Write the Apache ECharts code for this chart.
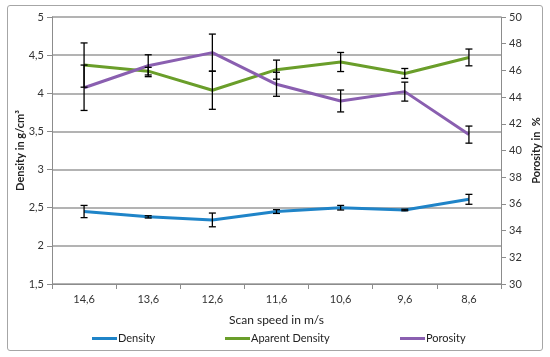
<!DOCTYPE html>
<html><head><meta charset="utf-8">
<script src="https://cdn.jsdelivr.net/npm/echarts@6/dist/echarts.min.js"></script>
<style>html,body{margin:0;padding:0;background:#fff}#c{width:550px;height:357px}
#frame{position:absolute;left:7px;top:5px;width:536px;height:346px;border:1.5px solid #a6a6a6;border-radius:3px;box-sizing:border-box;pointer-events:none}</style>
</head><body><div id="c"></div><div id="frame"></div>
<script>
const categories = ['14,6','13,6','12,6','11,6','10,6','9,6','8,6'];
const density = [2.45, 2.38, 2.34, 2.45, 2.50, 2.47, 2.61];
const densityErr = [0.08, 0.015, 0.09, 0.025, 0.03, 0.01, 0.065];
const apparent = [4.37, 4.29, 4.04, 4.31, 4.41, 4.26, 4.47];
const apparentErr = [0.29, 0.05, 0.25, 0.125, 0.125, 0.065, 0.11];
const porosity = [44.7, 46.35, 47.33, 44.96, 43.71, 44.41, 41.19];
const porosityErr = [1.7, 0.82, 1.39, 0.9, 0.82, 0.71, 0.64];
const leftTicks = {min: 1.5, max: 5, interval: 0.5};
const rightTicks = {min: 30, max: 50, interval: 2};
const seriesNames = ['Density', 'Aparent Density', 'Porosity'];
const seriesColors = ['#1f84c8', '#6a9e2a', '#8a5fb0'];

const FONT = 'Lato';
const comma = v => String(v).replace('.', ',');

function errSeries(vals, errs, axis) {
  return {
    type: 'custom', yAxisIndex: axis, z: 5, silent: true,
    data: vals.map((v, i) => [i, v - errs[i], v + errs[i]]),
    renderItem: function (params, api) {
      const lo = api.coord([api.value(0), api.value(1)]);
      const hi = api.coord([api.value(0), api.value(2)]);
      const x = lo[0], w = 3.5;
      const st = {stroke: '#000', lineWidth: 1.3};
      return {type: 'group', children: [
        {type: 'line', shape: {x1: x, y1: hi[1], x2: x, y2: lo[1]}, style: st},
        {type: 'line', shape: {x1: x - w, y1: hi[1], x2: x + w, y2: hi[1]}, style: st},
        {type: 'line', shape: {x1: x - w, y1: lo[1], x2: x + w, y2: lo[1]}, style: st}
      ]};
    }
  };
}

const legendLefts = [92, 225, 400];
const legends = seriesNames.map((n, i) => ({
  left: legendLefts[i], top: 333, padding: 0, itemGap: 0, itemWidth: 25, itemHeight: 3, icon: 'rect',
  data: [n],
  textStyle: {fontFamily: FONT, fontSize: 11, color: '#222', padding: [0, 0, 0, -4]}
}));

const chart = echarts.init(document.getElementById('c'), null, {renderer: 'canvas'});
const lineSeries = (name, data, color, axis) => ({
  name, type: 'line', data, yAxisIndex: axis, symbol: 'none', z: 4,
  lineStyle: {color, width: 3}, itemStyle: {color}
});
chart.setOption({
  animation: false,
  textStyle: {fontFamily: FONT},
  grid: {left: 52, right: 49, top: 17, bottom: 73},
  legend: legends,
  xAxis: {
    type: 'category', data: categories, boundaryGap: true,
    name: 'Scan speed in m/s', nameLocation: 'middle', nameGap: 30,
    nameTextStyle: {fontFamily: FONT, fontSize: 12, color: '#222'},
    axisLine: {lineStyle: {color: '#8c8c8c', width: 1}},
    axisTick: {show: true, length: 5, alignWithLabel: false, lineStyle: {color: '#8c8c8c'}},
    axisLabel: {fontFamily: FONT, fontSize: 11, color: '#333', margin: 10}
  },
  yAxis: [
    {
      type: 'value', min: leftTicks.min, max: leftTicks.max, interval: leftTicks.interval,
      name: 'Density in g/cm³', nameLocation: 'middle', nameGap: 26, nameRotate: 90, nameMoveOverlap: false,
      nameTextStyle: {fontFamily: FONT, fontSize: 11, fontWeight: 'bold', color: '#222'},
      axisLine: {show: true, lineStyle: {color: '#8c8c8c'}},
      axisTick: {show: true, length: 5, lineStyle: {color: '#8c8c8c'}},
      splitLine: {lineStyle: {color: '#9a9a9a', width: 1.5}},
      axisLabel: {fontFamily: FONT, fontSize: 11, color: '#333', margin: 8, formatter: v => comma(+v.toFixed(1))}
    },
    {
      type: 'value', min: rightTicks.min, max: rightTicks.max, interval: rightTicks.interval,
      name: 'Porosity in  %', nameLocation: 'middle', nameGap: 30, nameRotate: 90, nameMoveOverlap: false,
      nameTextStyle: {fontFamily: FONT, fontSize: 11, fontWeight: 'bold', color: '#222'},
      axisLine: {show: true, lineStyle: {color: '#8c8c8c'}},
      axisTick: {show: true, length: 5, lineStyle: {color: '#8c8c8c'}},
      splitLine: {show: false},
      axisLabel: {fontFamily: FONT, fontSize: 11, color: '#333', margin: 8}
    }
  ],
  series: [
    lineSeries(seriesNames[0], density, seriesColors[0], 0),
    lineSeries(seriesNames[1], apparent, seriesColors[1], 0),
    lineSeries(seriesNames[2], porosity, seriesColors[2], 1),
    errSeries(density, densityErr, 0),
    errSeries(apparent, apparentErr, 0),
    errSeries(porosity, porosityErr, 1)
  ]
});
</script></body></html>
